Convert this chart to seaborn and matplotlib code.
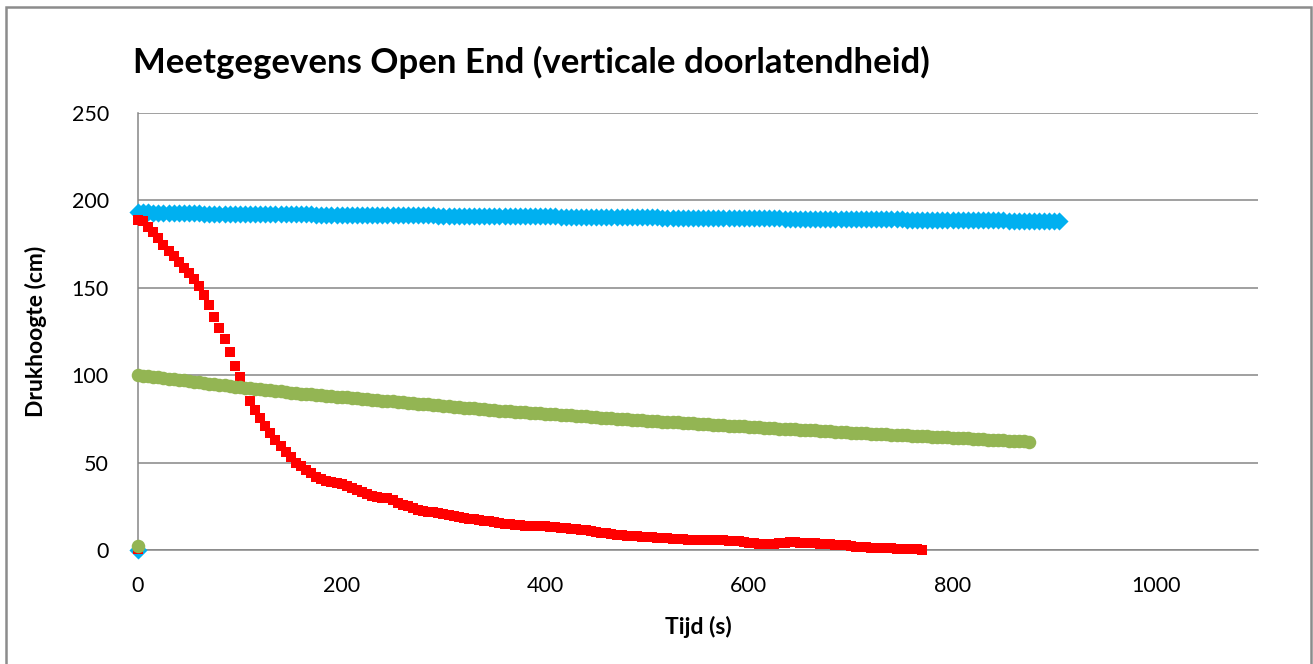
import numpy as np
import pandas as pd
import matplotlib.pyplot as plt
import seaborn as sns
from matplotlib.patches import Rectangle

# tijdstap van de metingen (s)
dt = 5

# reeks 1 (blauw), 0 - 905 s
blauw_h = [
    193.2, 193.1, 193.1, 193.0, 193.0, 192.9, 192.9, 192.8, 192.8, 192.7,
    192.7, 192.6, 192.6, 192.5, 192.5, 192.4, 192.4, 192.4, 192.4, 192.3,
    192.3, 192.3, 192.3, 192.2, 192.2, 192.2, 192.2, 192.1, 192.1, 192.1,
    192.1, 192.0, 192.0, 192.0, 192.0, 191.9, 191.9, 191.9, 191.9, 191.8,
    191.8, 191.8, 191.8, 191.7, 191.7, 191.7, 191.7, 191.6, 191.6, 191.6,
    191.6, 191.5, 191.5, 191.5, 191.5, 191.4, 191.4, 191.4, 191.4, 191.3,
    191.3, 191.3, 191.3, 191.2, 191.2, 191.2, 191.2, 191.1, 191.1, 191.1,
    191.1, 191.0, 191.0, 191.0, 191.0, 190.9, 190.9, 190.9, 190.9, 190.8,
    190.8, 190.8, 190.8, 190.7, 190.7, 190.7, 190.7, 190.6, 190.6, 190.6,
    190.6, 190.5, 190.5, 190.5, 190.5, 190.4, 190.4, 190.4, 190.4, 190.3,
    190.3, 190.3, 190.3, 190.2, 190.2, 190.2, 190.2, 190.1, 190.1, 190.1,
    190.1, 190.0, 190.0, 190.0, 190.0, 189.9, 189.9, 189.9, 189.9, 189.8,
    189.8, 189.8, 189.8, 189.7, 189.7, 189.7, 189.7, 189.6, 189.6, 189.6,
    189.6, 189.5, 189.5, 189.5, 189.5, 189.4, 189.4, 189.4, 189.4, 189.3,
    189.3, 189.3, 189.3, 189.2, 189.2, 189.2, 189.2, 189.1, 189.1, 189.1,
    189.1, 189.0, 189.0, 189.0, 189.0, 188.9, 188.9, 188.9, 188.9, 188.8,
    188.8, 188.8, 188.8, 188.7, 188.7, 188.7, 188.7, 188.6, 188.6, 188.6,
    188.6, 188.5, 188.5, 188.5, 188.5, 188.4, 188.4, 188.4, 188.4, 188.3,
    188.3, 188.3,
]

# reeks 2 (rood), 0 - 770 s
rood_h = [
    189, 188, 185, 182, 178.5, 174.5, 171, 168, 165, 161.5,
    158.5, 155, 151, 146, 140, 133.5, 127, 120.5, 113, 105.5,
    99, 92.5, 85, 80, 75.5, 71, 67, 63, 59.5, 56,
    53, 50, 48, 46, 44, 42, 40.5, 39.5, 39, 38.5,
    37.5, 36.5, 35.5, 34.5, 33, 32, 31, 30.5, 30, 29.5,
    28.5, 27, 26, 25, 24, 23, 22.5, 22, 21.5, 21,
    20.5, 20, 19.5, 19, 18.5, 18, 17.5, 17, 16.8, 16.5,
    16, 15.5, 15, 14.7, 14.4, 14.2, 14, 13.8, 13.7, 13.6,
    13.5, 13.2, 13, 12.8, 12.5, 12.2, 12, 11.7, 11.3, 11,
    10.5, 10, 9.6, 9.2, 8.8, 8.5, 8.2, 8, 7.8, 7.6,
    7.4, 7.2, 7, 6.8, 6.6, 6.4, 6.2, 6.1, 6, 6,
    5.9, 5.8, 5.8, 5.7, 5.6, 5.5, 5.4, 5.2, 5, 4.6,
    4.2, 3.8, 3.5, 3.3, 3.2, 3.4, 3.9, 4.2, 4.3, 4.3,
    4.2, 4.1, 4.0, 3.8, 3.6, 3.4, 3.2, 3, 2.8, 2.6,
    2.3, 2, 1.8, 1.6, 1.4, 1.2, 1.1, 1, 0.9, 0.8,
    0.7, 0.6, 0.5, 0.3, 0.2,
]

# reeks 3 (groen), 0 - 875 s
groen_h = [
    100.0, 99.7, 99.4, 99.0, 98.7, 98.4, 98.0, 97.7, 97.3, 97.0,
    96.6, 96.3, 95.9, 95.6, 95.2, 94.9, 94.5, 94.2, 93.8, 93.5,
    93.1, 92.8, 92.5, 92.2, 91.9, 91.6, 91.3, 91.0, 90.7, 90.4,
    90.1, 89.8, 89.5, 89.3, 89.0, 88.8, 88.5, 88.3, 88.0, 87.8,
    87.5, 87.3, 87.0, 86.8, 86.5, 86.3, 86.0, 85.8, 85.5, 85.3,
    85.0, 84.8, 84.5, 84.3, 84.0, 83.8, 83.5, 83.3, 83.0, 82.8,
    82.5, 82.3, 82.0, 81.8, 81.5, 81.3, 81.0, 80.8, 80.5, 80.3,
    80.0, 79.8, 79.6, 79.4, 79.2, 79.0, 78.8, 78.6, 78.4, 78.2,
    78.0, 77.8, 77.6, 77.4, 77.2, 77.0, 76.8, 76.6, 76.4, 76.2,
    76.0, 75.8, 75.6, 75.4, 75.2, 75.0, 74.8, 74.6, 74.4, 74.2,
    74.0, 73.8, 73.6, 73.5, 73.3, 73.2, 73.0, 72.8, 72.6, 72.4,
    72.2, 72.1, 71.9, 71.7, 71.5, 71.4, 71.2, 71.0, 70.8, 70.7,
    70.5, 70.4, 70.2, 70.0, 69.8, 69.7, 69.5, 69.4, 69.2, 69.0,
    68.8, 68.7, 68.5, 68.4, 68.2, 68.0, 67.8, 67.7, 67.5, 67.4,
    67.2, 67.1, 66.9, 66.8, 66.6, 66.5, 66.3, 66.2, 66.0, 65.9,
    65.7, 65.6, 65.4, 65.3, 65.1, 65.0, 64.8, 64.7, 64.5, 64.4,
    64.2, 64.1, 63.9, 63.8, 63.6, 63.5, 63.3, 63.2, 63.0, 62.9,
    62.7, 62.6, 62.4, 62.3, 62.1, 62.0,
]

# losse startpunten op t = 0
start_h = {"blauw": 0.0, "rood": 0.8, "groen": 2.5}

x_ticks = [0, 200, 400, 600, 800, 1000]
y_ticks = [0, 50, 100, 150, 200, 250]

kleuren = {"blauw": "#00B0F0", "rood": "#FF0000", "groen": "#93B553"}
markers = {"blauw": "D", "rood": "s", "groen": "o"}
groottes = {"blauw": 85, "rood": 62, "groen": 95}

reeksen = {"blauw": blauw_h, "rood": rood_h, "groen": groen_h}

sns.set_style("white")
plt.rcParams["font.family"] = ["Lato", "DejaVu Sans"]
plt.rcParams["text.color"] = "black"
plt.rcParams["axes.labelcolor"] = "black"

fig = plt.figure(figsize=(13.13, 6.64), dpi=100)
ax = fig.add_axes([138 / 1313, 114 / 664, 1120 / 1313, 437 / 664])

for naam, h in reeksen.items():
    df = pd.DataFrame({"t": [0] + [i * dt for i in range(len(h))],
                       "h": [start_h[naam]] + list(h)})
    sns.scatterplot(data=df, x="t", y="h", ax=ax, marker=markers[naam],
                    color=kleuren[naam], s=groottes[naam], linewidth=0,
                    clip_on=False, zorder=3)

ax.set_xlim(0, 1100)
ax.set_ylim(0, 250)
ax.set_xticks(x_ticks)
ax.set_yticks(y_ticks)

grijs = "#868686"
ax.yaxis.grid(True, color=grijs, linewidth=1.1)
ax.xaxis.grid(False)
for kant in ["top", "right"]:
    ax.spines[kant].set_visible(False)
for kant in ["left", "bottom"]:
    ax.spines[kant].set_color(grijs)
    ax.spines[kant].set_linewidth(1.1)
ax.tick_params(axis="both", direction="out", length=5, width=1.1,
               color=grijs, labelsize=15.5, labelcolor="black")
ax.tick_params(axis="x", pad=14)
ax.tick_params(axis="y", pad=16)

ax.set_xlabel("Tijd (s)", fontsize=16.5, fontweight="bold", labelpad=14)
ax.set_ylabel("Drukhoogte (cm)", fontsize=16.5, fontweight="bold", labelpad=18)

fig.text(133 / 1313, 1 - 62 / 664, "Meetgegevens Open End (verticale doorlatendheid)",
         fontsize=25, fontweight="bold", ha="left", va="center")

fig.patches.append(Rectangle((6 / 1313, -0.01), 1305 / 1313, 1.01 - 7 / 664,
                             transform=fig.transFigure, fill=False,
                             edgecolor="#8C8C8C", linewidth=1.8))

fig.savefig("out.png", dpi=100)
